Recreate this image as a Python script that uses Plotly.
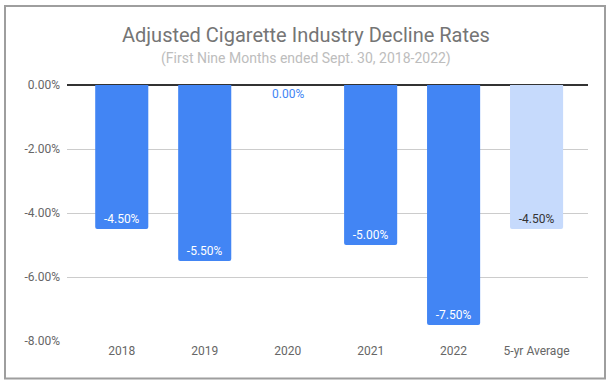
import plotly.graph_objects as go

categories = ["2018", "2019", "2020", "2021", "2022", "5-yr Average"]
decline_rates = [-4.5, -5.5, 0.0, -5.0, -7.5, -4.5]
bar_colors = ["#4285F4", "#4285F4", "#4285F4", "#4285F4", "#4285F4", "#C6DAFC"]
label_colors = ["#ffffff", "#ffffff", "#4285F4", "#ffffff", "#ffffff", "#333333"]
y_ticks = [0, -2, -4, -6, -8]
y_tick_labels = ["0.00%", "-2.00%", "-4.00%", "-6.00%", "-8.00%"]
title_text = "Adjusted Cigarette Industry Decline Rates"
subtitle_text = "(First Nine Months ended Sept. 30, 2018-2022)"

FONT = "Roboto, Arial, sans-serif"
labels = [f"{v:.2f}%" for v in decline_rates]
bar_text = [l if v != 0 else "" for l, v in zip(labels, decline_rates)]

fig = go.Figure()
fig.add_trace(go.Bar(
    x=categories,
    y=decline_rates,
    marker=dict(color=bar_colors, cornerradius=2, line=dict(width=0)),
    width=0.64,
    text=bar_text,
    textposition="inside",
    insidetextanchor="end",
    textangle=0,
    insidetextfont=dict(family=FONT, size=12, color=label_colors),
    hoverinfo="skip",
    cliponaxis=False,
))

# zero-value label (shown just under the baseline, like the original)
for i, (v, l, col) in enumerate(zip(decline_rates, labels, label_colors)):
    if v == 0:
        fig.add_annotation(x=i, y=v, xref="x", yref="y", text=l, showarrow=False,
                           yanchor="top", yshift=0,
                           font=dict(family=FONT, size=12, color=col))

W, H = 613, 384
ml, mr, mt, mb = 67, 25, 85, 42
pw, ph = W - ml - mr, H - mt - mb

def px_x(p):
    return (p - ml) / pw

def px_y(p):
    return (H - mb - p) / ph

fig.add_shape(type="rect", xref="paper", yref="paper",
              x0=px_x(5), x1=px_x(605), y0=px_y(378.5), y1=px_y(6),
              line=dict(color="#9e9e9e", width=2), fillcolor="rgba(0,0,0,0)", layer="below")

fig.add_annotation(xref="paper", yref="paper", x=px_x(306), y=px_y(35),
                   xanchor="center", yanchor="middle", showarrow=False,
                   text=title_text, font=dict(family=FONT, size=20, color="#757575"))
fig.add_annotation(xref="paper", yref="paper", x=px_x(306), y=px_y(59),
                   xanchor="center", yanchor="middle", showarrow=False,
                   text=subtitle_text, font=dict(family=FONT, size=14, color="#bdbdbd"))

fig.update_layout(
    width=W, height=H,
    margin=dict(l=ml, r=mr, t=mt, b=mb),
    paper_bgcolor="white", plot_bgcolor="white",
    showlegend=False,
    font=dict(family=FONT, size=12, color="#666666"),
    xaxis=dict(
        type="category",
        range=[-0.66, 5.62], showgrid=False, showline=False, zeroline=False,
        ticks="", tickfont=dict(size=12, color="#666666"),
    ),
    yaxis=dict(
        range=[-8.03, 0.0001], tickvals=y_ticks, ticktext=y_tick_labels,
        showgrid=True, gridcolor="#cccccc", gridwidth=1,
        zeroline=True, zerolinecolor="#333333", zerolinewidth=1.5,
        showline=False, ticks="", ticklabelstandoff=6,
        tickfont=dict(size=12, color="#666666"),
    ),
)

fig.write_html("out.html", config={"displayModeBar": False},
               post_script="document.body.style.margin='0';document.body.style.overflow='hidden';")
